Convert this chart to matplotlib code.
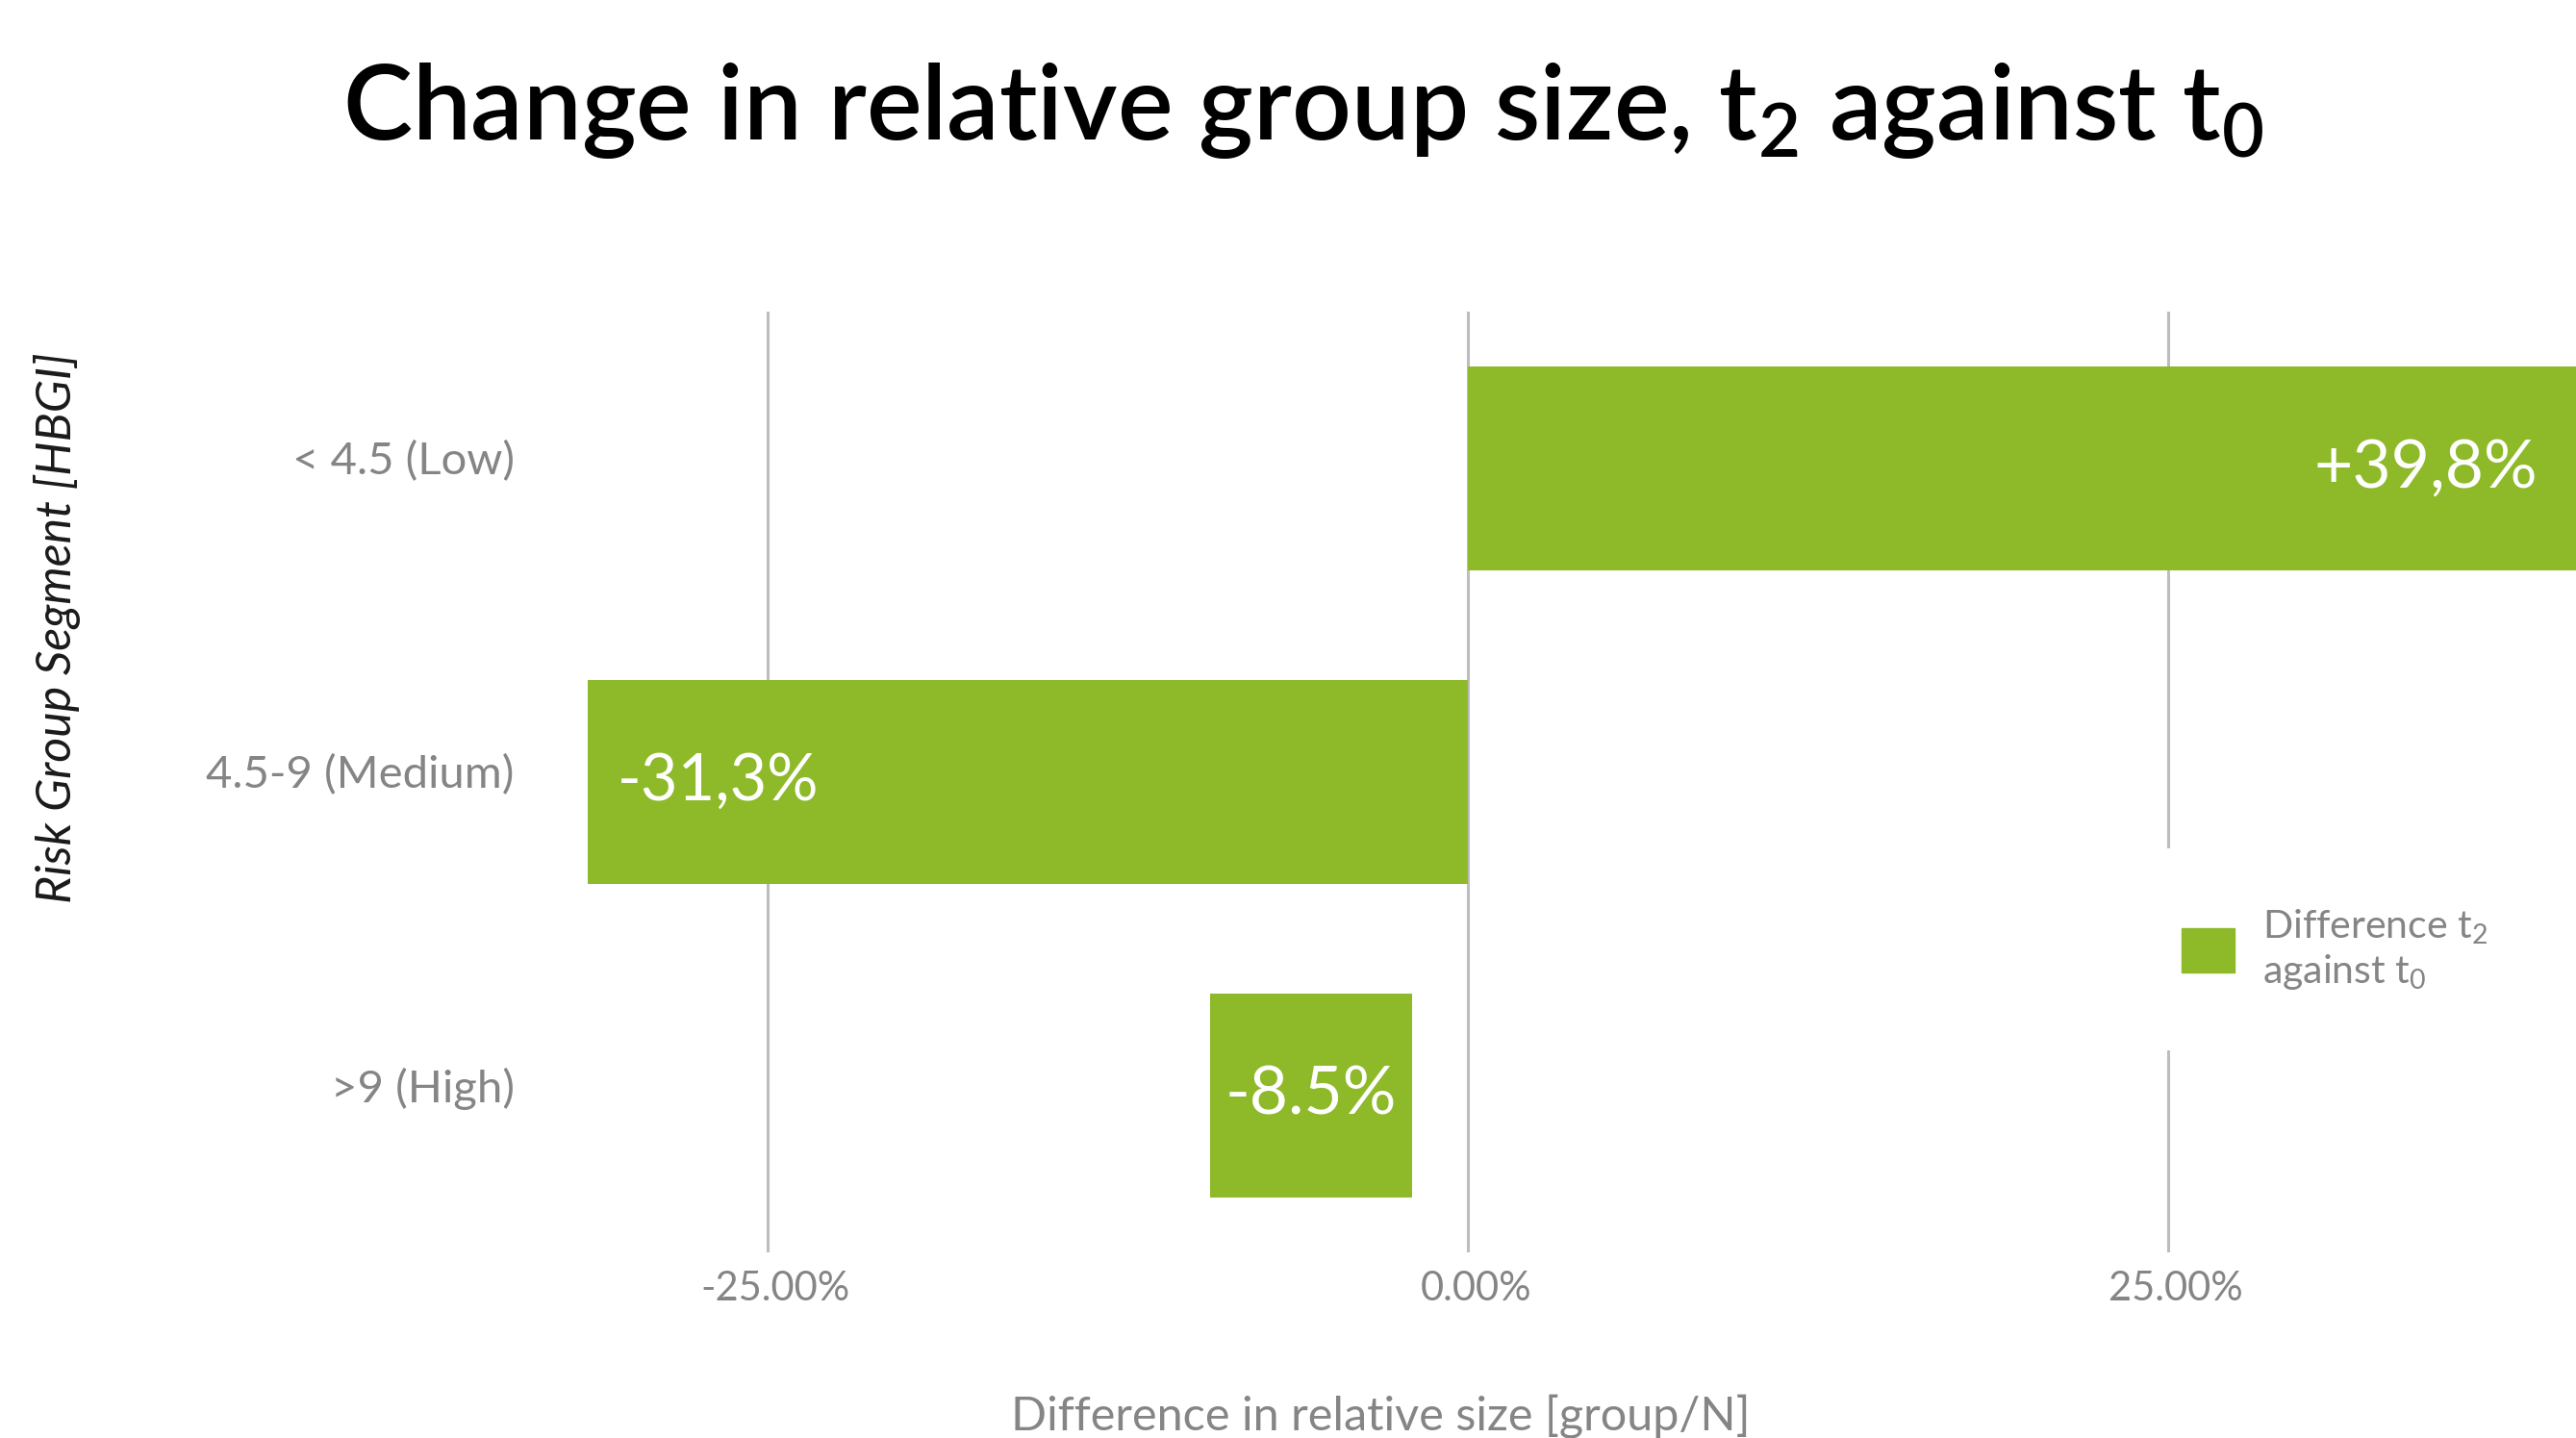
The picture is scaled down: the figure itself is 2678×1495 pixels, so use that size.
import matplotlib
matplotlib.use('Agg')
import matplotlib.pyplot as plt
import matplotlib.transforms as mtransforms
from matplotlib.patches import Patch

# Data
segments = ['< 4.5 (Low)', '4.5-9 (Medium)', '>9 (High)']
bar_left = [0.0, -31.4, -9.2]
bar_right = [39.8, 0.0, -2.0]
bar_labels = ['+39,8%', '-31,3%', '-8.5%']
label_anchor = ['right', 'left', 'center']
xticks = [-25, 0, 25]
xtick_labels = ['-25.00%', '0.00%', '25.00%']

GREEN = '#8EB929'
GRAY = '#858585'

plt.rcParams['font.family'] = ['Lato', 'DejaVu Sans']
plt.rcParams['mathtext.fontset'] = 'custom'
plt.rcParams['mathtext.rm'] = 'Lato'


def main():
    fig = plt.figure(figsize=(26.78, 14.95), dpi=100)
    ax = fig.add_axes([0.209, 0.1291, 0.791, 0.6542])

    pos = list(range(len(segments)))
    widths = [r - l for l, r in zip(bar_left, bar_right)]
    ax.barh(pos, widths, left=bar_left, height=0.648, color=GREEN, zorder=2)

    ax.set_xlim(-33.17, 39.56)
    ax.set_ylim(2.5, -0.5)

    ax.set_xticks(xticks)
    ax.set_xticklabels(xtick_labels, fontsize=30, color=GRAY)
    ax.set_yticks(pos)
    ax.set_yticklabels(segments, fontsize=34, color=GRAY)
    ax.tick_params(axis='both', length=0)
    ax.tick_params(axis='x', pad=14)
    ax.tick_params(axis='y', pad=18)
    # small nudges of the tick labels, as in the reference
    dx = mtransforms.ScaledTranslation(6 / 72, 0, fig.dpi_scale_trans)
    for lab in ax.get_xticklabels():
        lab.set_transform(lab.get_transform() + dx)
    dy = mtransforms.ScaledTranslation(0, 8 / 72, fig.dpi_scale_trans)
    for lab in ax.get_yticklabels():
        lab.set_transform(lab.get_transform() + dy)
    ax.grid(axis='x', color='#bdbdbd', linewidth=2.2, zorder=0)
    ax.set_axisbelow(True)
    for s in ax.spines.values():
        s.set_visible(False)

    # value labels inside bars
    xmin, xmax = ax.get_xlim()
    for i, (l, r, txt, where) in enumerate(zip(bar_left, bar_right, bar_labels, label_anchor)):
        if where == 'right':
            ax.annotate(txt, (min(r, xmax), i), xytext=(-29, 0), textcoords='offset points',
                        ha='right', va='center', color='white', fontsize=50, zorder=3)
        elif where == 'left':
            ax.annotate(txt, (l, i), xytext=(22, 0), textcoords='offset points',
                        ha='left', va='center', color='white', fontsize=48, zorder=3)
        else:
            ax.annotate(txt, ((l + r) / 2, i), ha='center', va='center',
                        color='white', fontsize=50, zorder=3)

    leg = ax.legend(handles=[Patch(color=GREEN)],
                    labels=['Difference t$_\\mathregular{2}$\nagainst t$_\\mathregular{0}$'],
                    loc='center left', bbox_to_anchor=(2186 / 2678, 1 - 987 / 1495),
                    bbox_transform=fig.transFigure, fontsize=29.5, frameon=True,
                    facecolor='white', edgecolor='none', framealpha=1, fancybox=False,
                    borderpad=1.5, handlelength=1.34, handleheight=1.34, handletextpad=0.7)
    for t in leg.get_texts():
        t.set_color(GRAY)
    leg.set_zorder(5)

    fig.text(0.506, 1 - 145 / 1495,
             'Change in relative group size, t$_\\mathregular{2}$ against t$_\\mathregular{0}$',
             ha='center', va='baseline', fontsize=78, fontweight=600, color='black')
    fig.text(0.536, 1 - 1472 / 1495, 'Difference in relative size [group/N]',
             ha='center', va='center', fontsize=35, color=GRAY)
    fig.text(60 / 2678, 1 - 653 / 1495, 'Risk Group Segment [HBGI]', rotation=90,
             ha='center', va='center', fontsize=36, style='italic', color='#1a1a1a')

    fig.savefig('out.png', dpi=100)


if __name__ == '__main__':
    main()
